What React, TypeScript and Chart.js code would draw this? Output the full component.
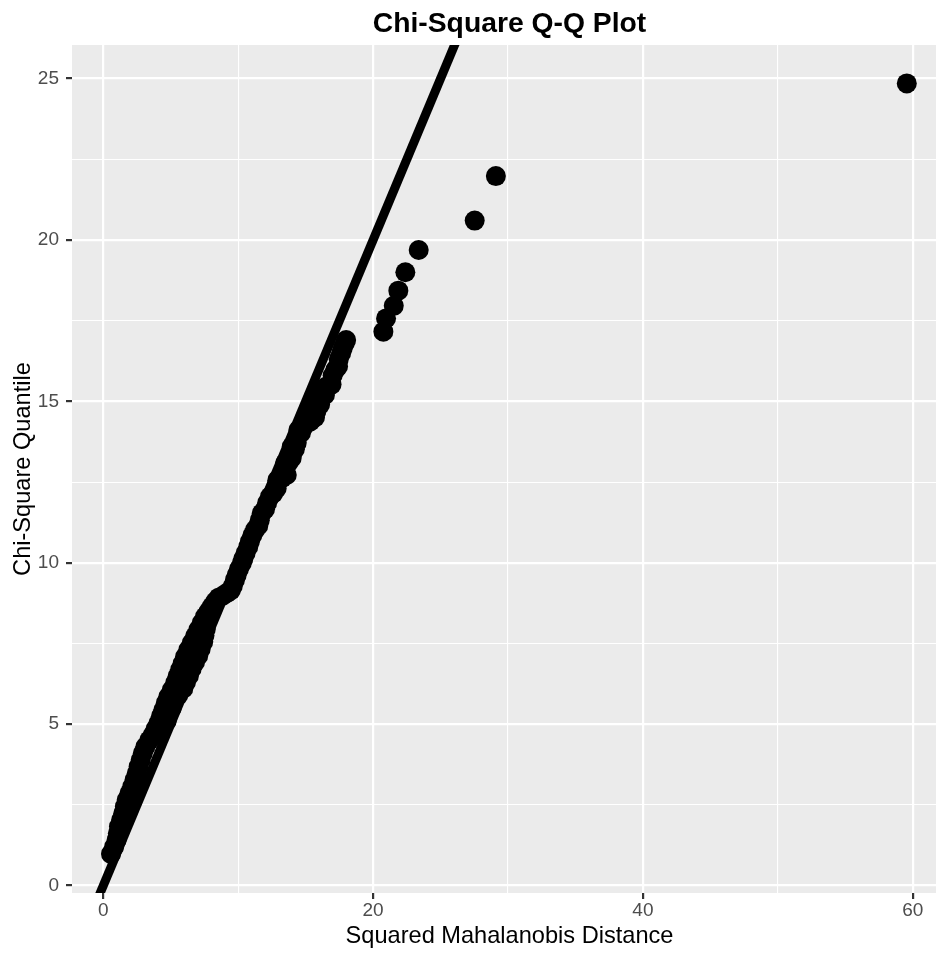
import React, { useEffect, useRef } from "react";
import { Chart, registerables } from "chart.js";

Chart.register(...registerables);

// Squared Mahalanobis distance (x) vs chi-square quantile (y)
const sqMahalanobis = [
  0.57, 0.8, 0.99, 1.08, 1.16, 1.32, 1.48, 1.6, 1.73, 1.94,
  2.15, 2.32, 2.48, 2.62, 2.77, 2.93, 3.12, 3.4, 3.66, 3.87,
  4.08, 4.27, 4.45, 4.63, 4.82, 5.07, 5.32, 5.5, 5.69, 5.88,
  6.06, 6.3, 6.55, 6.8, 7.04, 7.29, 7.54, 7.8, 8.04, 8.3, 8.55,
  4.7, 5.07, 5.56, 5.93, 6.13, 6.35, 6.55, 6.8, 7.04, 7.22, 7.41, 7.5, 7.6,
  8.85, 9.15, 9.45, 9.6, 9.76, 9.89, 10.05, 10.26, 10.38, 10.55,
  10.75, 10.87, 11.05, 11.25, 11.49, 11.6, 11.74, 11.99, 12.15, 12.36,
  12.6, 12.85, 12.9, 13.25, 13.6, 13.47, 13.75, 13.97, 13.97, 14.2,
  14.34, 14.46, 14.65, 14.83, 15.0, 15.35, 15.69, 15.4, 15.8, 16.07,
  15.9, 16.43, 16.5, 16.92, 17.0, 17.2, 17.4, 17.45, 17.63, 17.75,
  17.9, 18.0,
  20.76, 20.96, 21.53, 21.87, 22.39, 23.38, 27.53, 29.1, 59.56,
];
const chiSqQuantile = [
  0.98, 1.2, 1.42, 1.62, 1.83, 2.03, 2.24, 2.45, 2.65, 2.86,
  3.07, 3.28, 3.48, 3.69, 3.89, 4.1, 4.3, 4.5, 4.66, 4.85,
  5.03, 5.24, 5.44, 5.65, 5.85, 6.06, 6.27, 6.48, 6.68, 6.88,
  7.09, 7.3, 7.51, 7.72, 7.92, 8.13, 8.33, 8.49, 8.64, 8.8, 8.92,
  5.1, 5.5, 5.9, 6.1, 6.3, 6.5, 6.72, 6.92, 7.12, 7.33, 7.55, 7.75, 7.95,
  8.98, 9.06, 9.14, 9.28, 9.47, 9.62, 9.8, 9.98, 10.12, 10.3,
  10.5, 10.66, 10.85, 11.02, 11.15, 11.32, 11.53, 11.66, 11.86, 12.05,
  12.15, 12.3, 12.56, 12.62, 12.72, 13.08, 13.12, 13.25, 13.6, 13.52,
  13.72, 14.11, 14.02, 14.2, 14.42, 14.38, 14.5, 14.83, 14.7, 14.9,
  15.14, 15.2, 15.45, 15.52, 15.8, 15.98, 16.08, 16.3, 16.49, 16.65,
  16.8, 16.9,
  17.16, 17.57, 17.96, 18.43, 19.0, 19.69, 20.6, 21.98, 24.85,
];

// Reference line y = intercept + slope * x
const refIntercept = 0;
const refSlope = 1;

const xLimits = [-2.32, 62.54];
const yLimits = [-0.23, 26.04];
const xGrid = [0, 10, 20, 30, 40, 50, 60];
const xMajor = [0, 20, 40, 60];
const yGrid = [0, 2.5, 5, 7.5, 10, 12.5, 15, 17.5, 20, 22.5, 25];
const yMajor = [0, 5, 10, 15, 20, 25];

const titleText = "Chi-Square Q-Q Plot";
const xTitleText = "Squared Mahalanobis Distance";
const yTitleText = "Chi-Square Quantile";

const FONT = '"Liberation Sans", Arial, Helvetica, sans-serif';
const CANVAS_W = 950;
const CANVAS_H = 953;

const ggPlugin = {
  id: "ggDecor",
  beforeDraw(chart: any) {
    const { ctx, chartArea: a } = chart;
    ctx.save();
    ctx.fillStyle = "#EBEBEB";
    ctx.fillRect(a.left, a.top, a.right - a.left, a.bottom - a.top);
    ctx.restore();
  },
  afterDraw(chart: any) {
    const { ctx, chartArea: a } = chart;
    const cx = (a.left + a.right) / 2;
    const cy = (a.top + a.bottom) / 2;
    ctx.save();
    ctx.fillStyle = "#000000";
    ctx.textAlign = "center";
    ctx.textBaseline = "alphabetic";
    ctx.font = `bold 28.3px ${FONT}`;
    ctx.fillText(titleText, cx, 32);
    ctx.font = `23.6px ${FONT}`;
    ctx.fillText(xTitleText, cx, 943);
    ctx.translate(30, cy);
    ctx.rotate(-Math.PI / 2);
    ctx.fillText(yTitleText, 0, 0);
    ctx.restore();
  },
};

export default function App() {
  const canvasRef = useRef<HTMLCanvasElement | null>(null);

  useEffect(() => {
    if (!canvasRef.current) return;
    const points = sqMahalanobis.map((x, i) => ({ x, y: chiSqQuantile[i] }));
    const linePts = [
      { x: xLimits[0], y: refIntercept + refSlope * xLimits[0] },
      { x: xLimits[1], y: refIntercept + refSlope * xLimits[1] },
    ];
    const isMajor = (list: number[], v: number) => list.some((m) => Math.abs(m - v) < 1e-9);

    const chart = new Chart(canvasRef.current, {
      type: "scatter",
      data: {
        datasets: [
          {
            type: "scatter",
            data: points,
            pointRadius: 10,
            pointHoverRadius: 10,
            pointBackgroundColor: "#000000",
            pointBorderWidth: 0,
            borderWidth: 0,
            order: 2,
          } as any,
          {
            type: "line",
            data: linePts,
            borderColor: "#000000",
            borderWidth: 9,
            pointRadius: 0,
            fill: false,
            tension: 0,
            clip: 0,
            order: 1,
          } as any,
        ],
      },
      plugins: [ggPlugin],
      options: {
        animation: false,
        responsive: false,
        devicePixelRatio: 1,
        events: [],
        layout: { autoPadding: false, padding: { top: 45, right: 3, left: 0, bottom: 0 } },
        plugins: {
          legend: { display: false },
          tooltip: { enabled: false },
          title: { display: false },
        },
        scales: {
          x: {
            type: "linear",
            min: xLimits[0],
            max: xLimits[1],
            bounds: "data",
            afterBuildTicks: (s: any) => {
              s.ticks = xGrid.map((v) => ({ value: v }));
            },
            afterFit: (s: any) => {
              s.height = 60;
              s.paddingLeft = 0;
              s.paddingRight = 0;
            },
            border: { display: false },
            grid: {
              color: "#FFFFFF",
              lineWidth: (c: any) => (c.tick && isMajor(xMajor, c.tick.value) ? 2.2 : 1.1),
              drawTicks: true,
              tickLength: 6,
              tickWidth: 2.2,
              tickColor: (c: any) =>
                c.tick && isMajor(xMajor, c.tick.value) ? "#333333" : "rgba(0,0,0,0)",
            },
            ticks: {
              autoSkip: false,
              maxRotation: 0,
              padding: 0,
              color: "#4D4D4D",
              font: { size: 19, family: FONT },
              callback: (v: any) => (isMajor(xMajor, Number(v)) ? String(v) : ""),
            },
          },
          y: {
            type: "linear",
            min: yLimits[0],
            max: yLimits[1],
            bounds: "data",
            afterBuildTicks: (s: any) => {
              s.ticks = yGrid.map((v) => ({ value: v }));
            },
            afterFit: (s: any) => {
              s.width = 72;
              s.paddingTop = 0;
              s.paddingBottom = 0;
            },
            border: { display: false },
            grid: {
              color: "#FFFFFF",
              lineWidth: (c: any) => (c.tick && isMajor(yMajor, c.tick.value) ? 2.2 : 1.1),
              drawTicks: true,
              tickLength: 6,
              tickWidth: 2.2,
              tickColor: (c: any) =>
                c.tick && isMajor(yMajor, c.tick.value) ? "#333333" : "rgba(0,0,0,0)",
            },
            ticks: {
              autoSkip: false,
              padding: 7,
              color: "#4D4D4D",
              font: { size: 19, family: FONT },
              callback: (v: any) => (isMajor(yMajor, Number(v)) ? String(v) : ""),
            },
          },
        },
      } as any,
    });
    return () => chart.destroy();
  }, []);

  return (
    <div
      style={{
        position: "absolute",
        left: 0,
        top: 0,
        width: 936,
        height: 953,
        overflow: "hidden",
        background: "#FFFFFF",
      }}
    >
      <canvas
        ref={canvasRef}
        width={CANVAS_W}
        height={CANVAS_H}
        style={{ display: "block", width: `${CANVAS_W}px`, height: `${CANVAS_H}px` }}
      />
    </div>
  );
}
